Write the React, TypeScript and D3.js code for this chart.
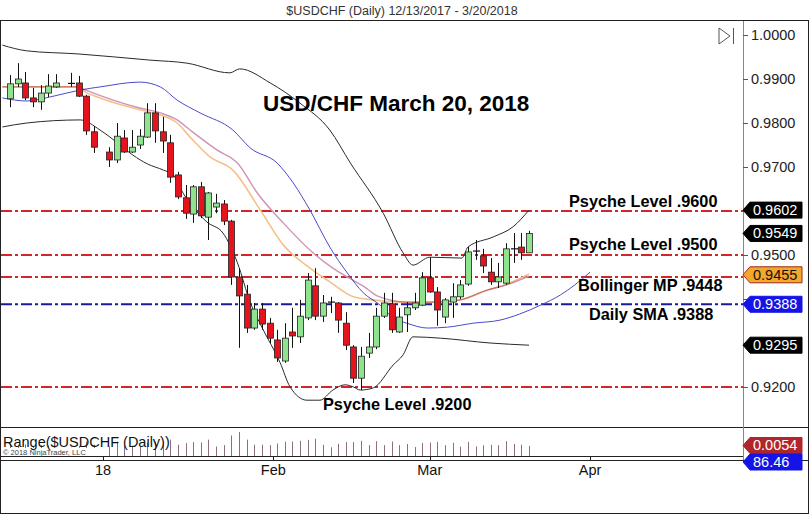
import React, { useEffect } from 'react';
import * as d3 from 'd3';

// ---------- DATA ----------
const dates = [
  '2017-12-14','2017-12-15','2017-12-18','2017-12-19','2017-12-20','2017-12-21','2017-12-22',
  '2017-12-26','2017-12-27','2017-12-28','2017-12-29',
  '2018-01-02','2018-01-03','2018-01-04','2018-01-05','2018-01-08','2018-01-09','2018-01-10','2018-01-11','2018-01-12',
  '2018-01-15','2018-01-16','2018-01-17','2018-01-18','2018-01-19','2018-01-22','2018-01-23','2018-01-24','2018-01-25','2018-01-26',
  '2018-01-29','2018-01-30','2018-01-31','2018-02-01','2018-02-02','2018-02-05','2018-02-06','2018-02-07','2018-02-08','2018-02-09',
  '2018-02-12','2018-02-13','2018-02-14','2018-02-15','2018-02-16','2018-02-19','2018-02-20','2018-02-21','2018-02-22','2018-02-23',
  '2018-02-26','2018-02-27','2018-02-28','2018-03-01','2018-03-02','2018-03-05','2018-03-06','2018-03-07','2018-03-08','2018-03-09',
  '2018-03-12','2018-03-13','2018-03-14','2018-03-15','2018-03-16','2018-03-19','2018-03-20',
];
const opens = [
  .9855,.9889,.9891,.9857,.9848,.9868,.9882,.9890,.9891,.9861,.9780,
  .9734,.9716,.9766,.9734,.9750,.9768,.9823,.9780,.9755,
  .9682,.9630,.9593,.9655,.9586,.9609,.9616,.9577,.9450,.9411,
  .9334,.9377,.9345,.9307,.9259,.9325,.9314,.9357,.9430,.9361,
  .9393,.9391,.9345,.9291,.9220,.9277,.9291,.9361,.9389,.9325,
  .9364,.9380,.9386,.9448,.9416,.9359,.9393,.9405,.9434,.9509,
  .9498,.9461,.9439,.9436,.9514,.9518,.9505,
];
const highs = [
  .9909,.9936,.9916,.9880,.9886,.9911,.9911,.9914,.9907,.9864,.9793,
  .9745,.9800,.9784,.9784,.9786,.9845,.9845,.9814,.9773,
  .9689,.9659,.9659,.9666,.9643,.9639,.9625,.9580,.9470,.9432,
  .9391,.9391,.9357,.9330,.9345,.9380,.9398,.9459,.9470,.9409,
  .9405,.9393,.9370,.9295,.9291,.9323,.9380,.9414,.9414,.9380,
  .9393,.9414,.9461,.9495,.9427,.9402,.9436,.9443,.9518,.9534,
  .9514,.9493,.9482,.9527,.9550,.9550,.9555,
];
const lows = [
  .9836,.9882,.9852,.9836,.9830,.9859,.9880,.9882,.9859,.9773,.9732,
  .9700,.9709,.9732,.9732,.9741,.9766,.9755,.9732,.9664,
  .9627,.9582,.9573,.9584,.9534,.9595,.9568,.9432,.9289,.9323,
  .9330,.9330,.9300,.9257,.9255,.9289,.9300,.9352,.9352,.9348,
  .9368,.9323,.9284,.9209,.9193,.9266,.9286,.9357,.9323,.9323,
  .9325,.9375,.9384,.9414,.9339,.9345,.9357,.9400,.9430,.9489,
  .9459,.9432,.9425,.9432,.9482,.9489,.9505,
];
const closes = [
  .9889,.9900,.9857,.9848,.9868,.9884,.9891,.9890,.9861,.9782,.9745,
  .9716,.9770,.9734,.9745,.9770,.9823,.9782,.9759,.9677,
  .9632,.9595,.9655,.9589,.9641,.9618,.9577,.9450,.9407,.9334,
  .9377,.9343,.9311,.9266,.9311,.9316,.9361,.9443,.9361,.9391,
  .9393,.9352,.9295,.9220,.9270,.9291,.9361,.9391,.9330,.9359,
  .9380,.9391,.9448,.9416,.9375,.9398,.9405,.9432,.9507,.9509,
  .9475,.9439,.9450,.9514,.9514,.9505,.9549,
];

// indicator lines: [trading-day slot, price]
const upperBand: [number, number][] = [
  [-1,.9977],[2.2,.9964],[8.9,.9957],[18.3,.9943],[23.2,.9936],[28.8,.9914],[30.1,.9923],[34.1,.9891],
  [38,.9845],[41.9,.9784],[44.6,.9709],[48.9,.9595],[51.5,.9505],[52.8,.9477],[55,.9495],[59.2,.9493],
  [60,.9518],[63.3,.9541],[65.9,.9564],[68,.9602],
];
const lowerBand: [number, number][] = [
  [-1,.9791],[2.2,.9800],[9.2,.9807],[11.8,.9784],[13.1,.9768],[16.1,.9727],[18,.9707],[20.1,.9693],
  [21.4,.9682],[22.3,.9652],[25.8,.9575],[27.9,.9550],[29.8,.9482],[31.5,.9391],[33,.9336],[35.4,.9255],
  [36.7,.9200],[38.9,.9170],[40.6,.9170],[42.3,.9193],[43.9,.9205],[45,.9200],[45.9,.9193],[47.6,.9198],
  [50.2,.9250],[51.5,.9273],[52.8,.9314],[56.4,.9311],[62.9,.9300],[68,.9295],
];
const smaLine: [number, number][] = [
  [-1,.9857],[2.2,.9850],[5.2,.9859],[9.2,.9875],[11.8,.9882],[17,.9893],[19.7,.9882],[21.9,.9852],
  [24.9,.9823],[29.2,.9784],[31.5,.9743],[35,.9709],[37.1,.9664],[39.3,.9602],[41.9,.9518],[44.2,.9459],
  [46.3,.9414],[48.5,.9386],[50.2,.9357],[52,.9345],[54.7,.9334],[57.3,.9336],[60.7,.9345],[64.2,.9352],
  [66.8,.9366],[69.5,.9386],[72.1,.9409],[74,.9432],[76,.9461],
];
const fastLine: [number, number][] = [
  [-1,.9882],[8.9,.9882],[9.6,.9873],[11.8,.9857],[17,.9830],[19.7,.9818],[21.9,.9800],[23.6,.9768],
  [26.2,.9723],[29.2,.9693],[32.8,.9602],[35.8,.9523],[39.3,.9470],[41.9,.9439],[45,.9405],[47.6,.9398],
  [51.1,.9393],[55,.9393],[59,.9398],[62.5,.9420],[65.1,.9434],[68,.9457],
];
const slowLine: [number, number][] = [
  [-1,.9882],[8.9,.9882],[9.6,.9877],[17,.9834],[19.7,.9823],[21.9,.9807],[23.6,.9784],[27.1,.9739],
  [29.8,.9709],[32.4,.9641],[35.8,.9573],[39.7,.9505],[42.3,.9470],[44.6,.9446],[46.5,.9427],[48.1,.9407],
  [52,.9393],[56,.9393],[59,.9398],[62.5,.9420],[65.1,.9432],[68,.9452],
];

const levelValues = [0.96, 0.95, 0.945, 0.9388, 0.92];
const levelKinds = ['psyche', 'psyche', 'psyche', 'sma', 'psyche'];

const yTickValues = [1.0, 0.99, 0.98, 0.97, 0.96, 0.95, 0.94, 0.93, 0.92];
const yTickLabels = ['1.0000', '0.9900', '0.9800', '0.9700', '', '0.9500', '', '', '0.9200'];

const xTickLabels = ['18', 'Feb', 'Mar', 'Apr'];
const xTickSlots = [12.2, 34.5, 55, 76];

const tagValues = [0.9602, 0.9549, 0.9455, 0.9388, 0.9295];
const tagKinds = ['black', 'black', 'orange', 'blue', 'black'];
const rangeTagValue = 0.0054;
const lowerTagLabel = '86.46';

const annotations = [
  'USD/CHF March 20, 2018',
  'Psyche Level .9600',
  'Psyche Level .9500',
  'Bollinger MP .9448',
  'Daily SMA .9388',
  'Psyche Level .9200',
];

// ---------- LAYOUT ----------
const W = 810, H = 515;
const PL = 1, PR = 743, PT = 21, PB = 427;
const RB = 456, AX = 460;

const parse = d3.timeParse('%Y-%m-%d');
const start = parse(dates[0]) as Date;
const slotOf = (s: string) =>
  d3.timeDay.range(start, parse(s) as Date).filter((d) => d.getDay() !== 0 && d.getDay() !== 6).length;

const x = d3.scaleLinear().domain([0, 68]).range([10, 529]);
const y = d3.scaleLinear().domain([0.92, 1.0]).range([387, 35]);
const rScale = d3.scaleLinear().domain([-0.0045, 0.0181]).range([456, 432]);

const lineGen = d3
  .line<[number, number]>()
  .x((d) => x(d[0]))
  .y((d) => y(d[1]))
  .curve(d3.curveMonotoneX);

const FONT = 'Liberation Sans, Arial, sans-serif';

const candles = dates.map((d, i) => ({
  slot: slotOf(d),
  o: opens[i], h: highs[i], l: lows[i], c: closes[i],
}));

function Tag({ yy, kind, label }: { yy: number; kind: string; label: string }) {
  const fill = kind === 'black' ? '#000' : kind === 'orange' ? '#f4a72a' : kind === 'blue' ? '#1414e6' : '#b0262a';
  const text = kind === 'orange' ? '#111' : '#fff';
  const h = 8;
  const p = `M${PR},${yy} L${PR + 7},${yy - h} L${802},${yy - h} L${802},${yy + h} L${PR + 7},${yy + h} Z`;
  return (
    <g>
      <path d={p} fill={fill} stroke={kind === 'orange' ? '#9a2a18' : fill} strokeWidth={1} />
      <text x={753} y={yy + 5} fill={text} fontSize={14.5} fontFamily={FONT}>{label}</text>
    </g>
  );
}

export default function App() {
  useEffect(() => {
    document.body.style.margin = '0';
  }, []);
  const levelColor = (k: string) => (k === 'sma' ? '#1a1a9e' : '#d0262a');
  return (
    <svg width={W} height={H} style={{ position: 'absolute', left: 0, top: 0, background: '#fff' }}>
      <defs>
        <clipPath id="plot">
          <rect x={PL} y={PT} width={PR - PL} height={PB - PT} />
        </clipPath>
      </defs>
      {/* title */}
      <text x={402} y={15} textAnchor="middle" fontSize={12.5} fill="#333" fontFamily={FONT}>
        $USDCHF (Daily)  12/13/2017 - 3/20/2018
      </text>
      {/* frame */}
      <rect x={0.5} y={20.5} width={808} height={493} fill="none" stroke="#222" />
      <line x1={0} x2={809} y1={PB + 0.5} y2={PB + 0.5} stroke="#222" />
      <line x1={0} x2={PR} y1={RB + 0.5} y2={RB + 0.5} stroke="#222" />
      <line x1={0} x2={809} y1={AX + 0.5} y2={AX + 0.5} stroke="#222" />
      <line x1={PR + 0.5} x2={PR + 0.5} y1={PT} y2={AX} stroke="#888" />

      {/* horizontal levels */}
      {levelValues.map((v, i) => (
        <line key={i} x1={PL} x2={PR} y1={y(v)} y2={y(v)} stroke={levelColor(levelKinds[i])}
          strokeWidth={2} strokeDasharray="11,3,3,3" />
      ))}

      <g clipPath="url(#plot)" fill="none">
        <path d={lineGen(upperBand) || ''} stroke="#2a2a2a" strokeWidth={1} />
        <path d={lineGen(lowerBand) || ''} stroke="#2a2a2a" strokeWidth={1} />
        <path d={lineGen(smaLine) || ''} stroke="#4a4acb" strokeWidth={1} />
        <path d={lineGen(fastLine) || ''} stroke="#f6c08a" strokeWidth={1.6} style={{ mixBlendMode: 'multiply' }} />
        <path d={lineGen(slowLine) || ''} stroke="#cf93b6" strokeWidth={1.4} style={{ mixBlendMode: 'multiply' }} />
      </g>

      {/* candles */}
      <g>
        {candles.map((c, i) => {
          const cx = Math.round(x(c.slot)) + 0.5;
          const top = y(Math.max(c.o, c.c));
          const bot = y(Math.min(c.o, c.c));
          const up = c.c > c.o;
          const doji = c.c === c.o;
          return (
            <g key={i}>
              <line x1={cx} x2={cx} y1={y(c.h)} y2={y(c.l)} stroke="#111" strokeWidth={1} />
              {doji ? (
                <line x1={cx - 3.5} x2={cx + 3.5} y1={top} y2={top} stroke="#111" strokeWidth={1.2} />
              ) : (
                <rect x={cx - 3} y={top} width={6} height={Math.max(1, bot - top)}
                  fill={up ? '#8fe38f' : '#e5141c'} stroke="#222" strokeWidth={0.8} />
              )}
            </g>
          );
        })}
      </g>

      {/* annotations */}
      <g fontFamily={FONT} fontWeight="bold" fill="#000">
        <text x={263} y={111} fontSize={22.5}>{annotations[0]}</text>
        <text x={569} y={207} fontSize={16.3}>{annotations[1]}</text>
        <text x={569} y={250} fontSize={16.3}>{annotations[2]}</text>
        <text x={578} y={291} fontSize={16.3}>{annotations[3]}</text>
        <text x={589} y={320} fontSize={16.3}>{annotations[4]}</text>
        <text x={323} y={410} fontSize={16.3}>{annotations[5]}</text>
      </g>

      {/* icon */}
      <path d="M719,28 L730,36 L719,44 Z" fill="none" stroke="#555" strokeWidth={1} />
      <line x1={733.5} x2={733.5} y1={28} y2={44} stroke="#555" />

      {/* right axis */}
      {yTickValues.map((v, i) => (
        <g key={i}>
          <line x1={PR} x2={PR + 5} y1={Math.round(y(v)) + 0.5} y2={Math.round(y(v)) + 0.5} stroke="#555" />
          {yTickLabels[i] && (
            <text x={751} y={y(v) + 5} fontSize={14.5} fill="#222" fontFamily={FONT}>{yTickLabels[i]}</text>
          )}
        </g>
      ))}
      {tagValues.map((v, i) => (
        <Tag key={i} yy={y(v)} kind={tagKinds[i]} label={v.toFixed(4)} />
      ))}

      {/* range panel */}
      <g>
        {candles.map((c, i) => {
          const cx = Math.round(x(c.slot)) + 0.5;
          return <line key={i} x1={cx} x2={cx} y1={RB} y2={rScale(c.h - c.l)} stroke="#8e6d7c" strokeWidth={1} />;
        })}
      </g>
      <rect x={2} y={448} width={96} height={8} fill="#fff" />
      <text x={3} y={447} fontSize={14.5} fill="#111" fontFamily={FONT}>Range($USDCHF (Daily))</text>
      <text x={3} y={455} fontSize={7.5} fill="#444" fontFamily={FONT}>© 2018 NinjaTrader, LLC</text>
      <Tag yy={rScale(rangeTagValue)} kind="red" label={rangeTagValue.toFixed(4)} />
      <Tag yy={462} kind="blue" label={lowerTagLabel} />

      {/* x axis */}
      {xTickSlots.map((s, i) => (
        <g key={i}>
          <line x1={Math.round(x(s)) + 0.5} x2={Math.round(x(s)) + 0.5} y1={RB} y2={AX} stroke="#222" />
          <text x={x(s)} y={475} textAnchor="middle" fontSize={14.5} fill="#111" fontFamily={FONT}>
            {xTickLabels[i]}
          </text>
        </g>
      ))}
    </svg>
  );
}
